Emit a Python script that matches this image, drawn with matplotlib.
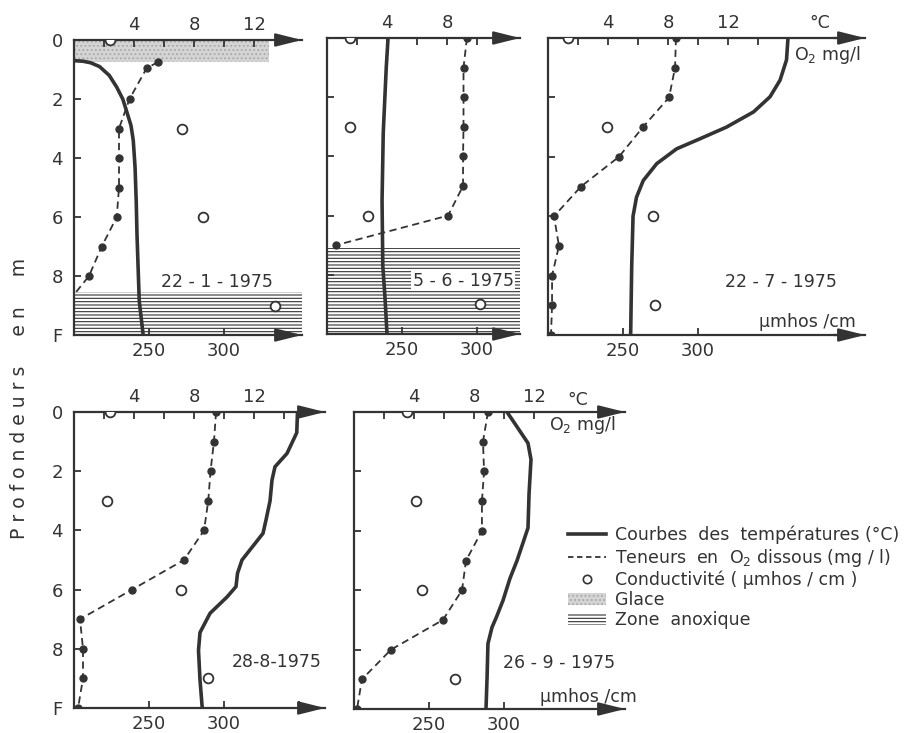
import matplotlib.pyplot as plt
from matplotlib.lines import Line2D
from matplotlib.patches import Patch

INK = '#333333'
ICE_FC = '#d4d4d4'
ICE_EC = '#a8a8a8'
W, H = 919, 733
plt.rcParams['hatch.linewidth'] = 0.8

# depth axis: 0 .. F (fond, ~10 m)
depth_ticks = [0, 2, 4, 6, 8, 10]
depth_labels = ['0', '2', '4', '6', '8', 'F']

# --- 22-1-1975
o2_d1 = [0.75, 0.95, 2, 3, 4, 5, 6, 7, 8, 8.6]
o2_1 = [5.6, 4.85, 3.7, 3.0, 3.0, 3.0, 2.85, 1.85, 1.0, 0.05]
temp_d1 = [0.7, 0.72, 0.77, 0.9, 1.2, 1.6, 2.0, 2.4, 2.9, 3.4, 4.3, 5.5, 6.6, 8.85, 9.95]
temp1 = [0.0, 0.6, 1.1, 1.7, 2.35, 2.85, 3.25, 3.5, 3.8, 3.95, 4.07, 4.15, 4.2, 4.35, 4.6]
cond_d1 = [0, 3, 6, 9]
cond1 = [224, 272, 286, 334]
ice1 = (0.0, 0.75, 13.0)     # top, bottom, extent
anox1 = 8.55

# --- 5-6-1975
o2_d2 = [0, 1, 2, 3, 4, 5, 6, 7]
o2_2 = [9.33, 9.1, 9.1, 9.1, 9.07, 9.07, 8.07, 0.6]
temp_d2 = [0, 1, 3.2, 5.5, 7.7, 8.8, 10]
temp2 = [4.07, 3.95, 3.75, 3.67, 3.72, 3.87, 4.0]
cond_d2 = [0, 3, 6, 9]
cond2 = [215, 215, 227, 302]
anox2 = 7.1

# --- 22-7-1975
o2_d3 = [0, 1, 2, 3, 4, 5, 6, 7, 8, 9, 10]
o2_3 = [8.53, 8.47, 8.07, 6.33, 4.73, 2.2, 0.4, 0.73, 0.27, 0.27, 0.2]
temp_d3 = [0, 0.74, 1.42, 1.98, 2.49, 3.0, 3.4, 3.73, 4.23, 4.8, 5.36, 6.0, 7.7, 10]
temp3 = [16.0, 15.9, 15.47, 14.8, 13.7, 11.9, 10.1, 8.58, 7.25, 6.35, 5.9, 5.67, 5.58, 5.51]
cond_d3 = [0, 3, 6, 9]
cond3 = [213, 239, 270, 271]

# --- 28-8-1975
o2_d4 = [0, 1, 2, 3, 4, 5, 6, 7, 8, 9, 10]
o2_4 = [9.47, 9.33, 9.1, 8.95, 8.67, 7.33, 3.87, 0.4, 0.6, 0.6, 0.27]
temp_d4 = [0, 0.7, 1.4, 1.85, 2.3, 3.0, 3.65, 4.1, 4.55, 5.0, 5.45, 5.9, 6.25, 6.8, 7.45, 8.05, 9.05, 10]
temp4 = [14.9, 14.85, 14.2, 13.4, 13.2, 13.07, 12.8, 12.6, 11.9, 11.2, 10.9, 10.8, 10.2, 9.07, 8.4, 8.3, 8.4, 8.55]
cond_d4 = [0, 3, 6, 9]
cond4 = [224, 222, 271, 289]

# --- 26-9-1975
o2_d5 = [0, 1, 2, 3, 4, 5, 6, 7, 8, 9, 10]
o2_5 = [8.93, 8.6, 8.67, 8.53, 8.53, 7.47, 7.2, 5.93, 2.47, 0.53, 0.2]
temp_d5 = [0, 0.5, 1.05, 1.6, 2.75, 3.9, 4.4, 5.0, 5.6, 6.35, 6.9, 7.25, 7.8, 8.95, 10]
temp5 = [10.2, 10.87, 11.6, 11.8, 11.67, 11.6, 11.27, 10.87, 10.4, 9.93, 9.5, 9.2, 8.93, 8.87, 8.8]
cond_d5 = [0, 3, 6, 9]
cond5 = [235, 241, 245, 267]


fig = plt.figure(figsize=(W / 100, H / 100), dpi=100)


def panel(x0, tip, ytop, ybot, tmax, cond_ticks=(250, 300), left_labels=False):
  xmax = (tip - x0) / 15.0   # 15 px per degree / mg
  ax = fig.add_axes([x0 / W, 1 - ybot / H, (tip - x0) / W, (ybot - ytop) / H])
  ax.set_xlim(0, xmax)
  ax.set_ylim(10, 0)
  ax.patch.set_alpha(0)

  # conductivity scale on the bottom axis (twiny resets ax to bottom ticks,
  # so make it first)
  ax2 = ax.twiny()
  ax2.set_xlim(200, 200 + 10 * xmax)
  ax2.xaxis.tick_bottom()
  ax2.xaxis.set_label_position('bottom')
  ax2.set_xticks(list(cond_ticks))
  ax2.set_xticklabels([str(c) if c in (250, 300) else '' for c in cond_ticks])
  ax2.tick_params(axis='x', direction='in', length=5, width=1.3, pad=5,
                  labelsize=13, colors=INK)
  for s in ax2.spines.values():
    s.set_visible(False)

  for s in ['top', 'bottom', 'left']:
    ax.spines[s].set_linewidth(1.6)
    ax.spines[s].set_color(INK)
  ax.spines['right'].set_visible(False)

  ax.xaxis.tick_top()
  xt = list(range(2, tmax + 1, 2))
  ax.set_xticks(xt)
  ax.set_xticklabels([str(t) if t in (4, 8, 12) else '' for t in xt])
  ax.tick_params(axis='x', direction='in', length=5, width=1.3, pad=4,
                 labelsize=13, colors=INK)
  ax.set_yticks(depth_ticks)
  ax.set_yticklabels(depth_labels if left_labels else [])
  ax.tick_params(axis='y', direction='in', length=5, width=1.3, pad=8,
                 labelsize=13, colors=INK)

  for yy in (1, 0):
    ax.annotate('', xy=(1.0, yy), xytext=(0.9, yy), xycoords='axes fraction',
                annotation_clip=False,
                arrowprops=dict(arrowstyle='-|>,head_length=1.6,head_width=0.4',
                                mutation_scale=10, lw=1.6, color=INK,
                                shrinkA=0, shrinkB=0))
  return ax, ax2


def draw(ax, ax2, o2_d, o2, temp_d, temp, cond_d, cond, mark_last=True):
  ax.plot(temp, temp_d, color=INK, lw=2.6, zorder=3)
  me = None if mark_last else slice(0, len(o2) - 1)
  ax.plot(o2, o2_d, color=INK, lw=1.3, ls=(0, (4, 2.5)), marker='o', ms=5,
          markevery=me, zorder=4)
  ax2.plot(cond, cond_d, ls='none', marker='o', mfc='white', mec=INK,
           ms=7, mew=1.3, zorder=5)


def anoxic(ax, top):
  ax.axhspan(top, 10, facecolor='white', hatch='-----', edgecolor=INK,
             linewidth=0, zorder=1)


# panel 1
ax, ax2 = panel(74, 302, 40, 335, 12, left_labels=True)
ax.fill_between([0, ice1[2]], ice1[0], ice1[1], facecolor=ICE_FC, hatch='....',
                edgecolor=ICE_EC, linewidth=0, zorder=1)
anoxic(ax, anox1)
draw(ax, ax2, o2_d1, o2_1, temp_d1, temp1, cond_d1, cond1, mark_last=False)
ax.text(9.5, 8.2, '22 - 1 - 1975', ha='center', va='center', fontsize=12.5, color=INK)

# panel 2
ax, ax2 = panel(327, 520, 38, 334, 10)
anoxic(ax, anox2)
draw(ax, ax2, o2_d2, o2_2, temp_d2, temp2, cond_d2, cond2)
ax.text(9.07, 8.2, '5 - 6 - 1975', ha='center', va='center', fontsize=12.5, color=INK,
        zorder=6, bbox=dict(facecolor='white', edgecolor='none', pad=1))

# panel 3
ax, ax2 = panel(548, 865, 38, 335, 14)
draw(ax, ax2, o2_d3, o2_3, temp_d3, temp3, cond_d3, cond3)
ax.text(15.5, 8.2, '22 - 7 - 1975', ha='center', va='center', fontsize=12.5, color=INK)
ax.text(18.1, -0.5, '°C', ha='center', va='center', fontsize=12.5, color=INK, clip_on=False)
ax.text(16.4, 0.57, 'O$_2$ mg/l', ha='left', va='center', fontsize=12.5, color=INK)
ax.text(17.3, 9.55, 'µmhos /cm', ha='center', va='center', fontsize=12.5, color=INK)

# panel 4
ax, ax2 = panel(74, 325, 412, 708, 14, cond_ticks=(250, 300, 350), left_labels=True)
draw(ax, ax2, o2_d4, o2_4, temp_d4, temp4, cond_d4, cond4)
ax.text(13.5, 8.45, '28-8-1975', ha='center', va='center', fontsize=12.5, color=INK)

# panel 5
ax, ax2 = panel(354, 625, 412, 709, 12)
draw(ax, ax2, o2_d5, o2_5, temp_d5, temp5, cond_d5, cond5)
ax.text(13.7, 8.45, '26 - 9 - 1975', ha='center', va='center', fontsize=12.5, color=INK)
ax.text(14.9, -0.4, '°C', ha='center', va='center', fontsize=12.5, color=INK, clip_on=False)
ax.text(13.0, 0.45, 'O$_2$ mg/l', ha='left', va='center', fontsize=12.5, color=INK)
ax.text(12.4, 9.6, 'µmhos /cm', ha='left', va='center', fontsize=12.5, color=INK)

fig.text(20 / W, 1 - 398 / H, 'P r o f o n d e u r s     e n     m', rotation=90,
         ha='center', va='center', fontsize=13.5, color=INK)

handles = [
  Line2D([], [], color=INK, lw=2.6),
  Line2D([], [], color=INK, lw=1.3, ls=(0, (3, 2))),
  Line2D([], [], ls='none', marker='o', mfc='white', mec=INK, ms=6, mew=1.2),
  Patch(facecolor=ICE_FC, hatch='....', edgecolor=ICE_EC, linewidth=0),
  Patch(facecolor='white', hatch='-----', edgecolor=INK, linewidth=0),
]
labels = ['Courbes  des  températures (°C)',
          'Teneurs  en  O$_2$ dissous (mg / l)',
          'Conductivité ( µmhos / cm )',
          'Glace',
          'Zone  anoxique']
fig.legend(handles, labels, loc='upper left', bbox_to_anchor=(568 / W, 1 - 526 / H),
           frameon=False, fontsize=12.5, handlelength=2.2, handletextpad=0.5,
           labelspacing=0.12, borderaxespad=0, borderpad=0, labelcolor=INK)

fig.savefig('out.png', dpi=100, facecolor='white')
